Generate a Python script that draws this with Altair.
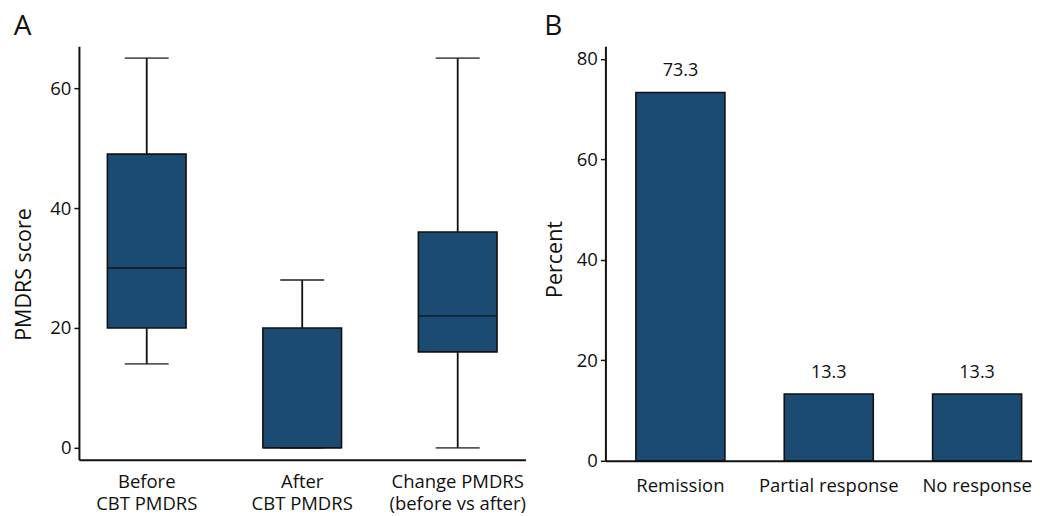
import altair as alt
import pandas as pd

# Panel A: box plot summary values
groups = ["Before\nCBT PMDRS", "After\nCBT PMDRS", "Change PMDRS\n(before vs after)"]
mins = [14, 0, 0]
q1s = [20, 0, 16]
medians = [30, 0, 22]
q3s = [49, 20, 36]
maxs = [65, 28, 65]

# Panel B: response categories
cats = ["Remission", "Partial response", "No response"]
pcts = [73.3, 13.3, 13.3]

FILL = "#1b4a72"
INK = "#111111"
FONT = "Open Sans"

box_df = pd.DataFrame({"group": groups, "min": mins, "q1": q1s, "median": medians,
                       "q3": q3s, "max": maxs})
bar_df = pd.DataFrame({"cat": cats, "pct": pcts})

xA = alt.X("group:N", sort=groups, title=None,
           scale=alt.Scale(paddingInner=0.494, paddingOuter=0.183),
           axis=alt.Axis(labelExpr="split(datum.label, '\\n')", labelAngle=0,
                         ticks=False, labelPadding=13, labelLineHeight=22))
yA_scale = alt.Scale(domain=[-2, 67], nice=False, zero=False)
yA_axis = alt.Axis(values=[0, 20, 40, 60], title="PMDRS score", titlePadding=14,
                   titleY=228)

base = alt.Chart(box_df)
whisk_lo = base.mark_rule(color=INK, strokeWidth=1.8).encode(
    x=xA, y=alt.Y("min:Q", scale=yA_scale, axis=yA_axis), y2="q1:Q")
whisk_hi = base.mark_rule(color=INK, strokeWidth=1.8).encode(
    x=xA, y=alt.Y("q3:Q", scale=yA_scale, axis=yA_axis), y2="max:Q")
cap_lo = base.mark_tick(color=INK, size=44, thickness=1.8).encode(
    x=xA, y=alt.Y("min:Q", scale=yA_scale, axis=yA_axis))
cap_hi = base.mark_tick(color=INK, size=44, thickness=1.8).encode(
    x=xA, y=alt.Y("max:Q", scale=yA_scale, axis=yA_axis))
box = base.mark_bar(fill=FILL, stroke=INK, strokeWidth=1.6).encode(
    x=xA, y=alt.Y("q1:Q", scale=yA_scale, axis=yA_axis), y2="q3:Q")
med = base.mark_tick(color=INK, size=78, thickness=1.8).encode(
    x=xA, y=alt.Y("median:Q", scale=yA_scale, axis=yA_axis))

chartA = alt.layer(whisk_lo, whisk_hi, cap_lo, cap_hi, box, med).properties(
    width=447, height=414,
    title=alt.TitleParams("A", anchor="start", frame="bounds", fontSize=28,
                          fontWeight="normal", font=FONT, offset=5, color=INK))

xB = alt.X("cat:N", sort=cats, title=None,
           scale=alt.Scale(paddingInner=0.4, paddingOuter=0.1377, align=0.746),
           axis=alt.Axis(labelAngle=0, ticks=False, labelPadding=16))
yB = alt.Y("pct:Q", title="Percent",
           scale=alt.Scale(domain=[0, 82.5], nice=False),
           axis=alt.Axis(values=[0, 20, 40, 60, 80], titlePadding=10, titleY=213))

bars = alt.Chart(bar_df).mark_bar(fill=FILL, stroke=INK, strokeWidth=1.6).encode(x=xB, y=yB)
labels = alt.Chart(bar_df).mark_text(baseline="alphabetic", dy=-16, fontSize=18,
                                     font=FONT, color=INK).encode(
    x=xB, y=yB, text=alt.Text("pct:Q", format=".1f"))

chartB = alt.layer(bars, labels).properties(
    width=427, height=415,
    title=alt.TitleParams("B", anchor="start", frame="bounds", fontSize=28,
                          fontWeight="normal", font=FONT, offset=5, color=INK))

chart = alt.hconcat(chartA, chartB, spacing=18).properties(
    padding={"left": 5, "top": 5, "right": 0, "bottom": 0}
).configure_view(stroke=None).configure_axis(
    domainColor=INK, domainWidth=2, tickColor=INK, tickWidth=1.5, tickSize=5,
    labelPadding=3, grid=False, labelFont=FONT, labelFontSize=18.5, labelColor=INK,
    titleFont=FONT, titleFontSize=21.5, titleFontWeight="normal", titleColor=INK
).configure_title(font=FONT)

chart.save("out.html", embed_options={"renderer": "svg", "actions": False})
